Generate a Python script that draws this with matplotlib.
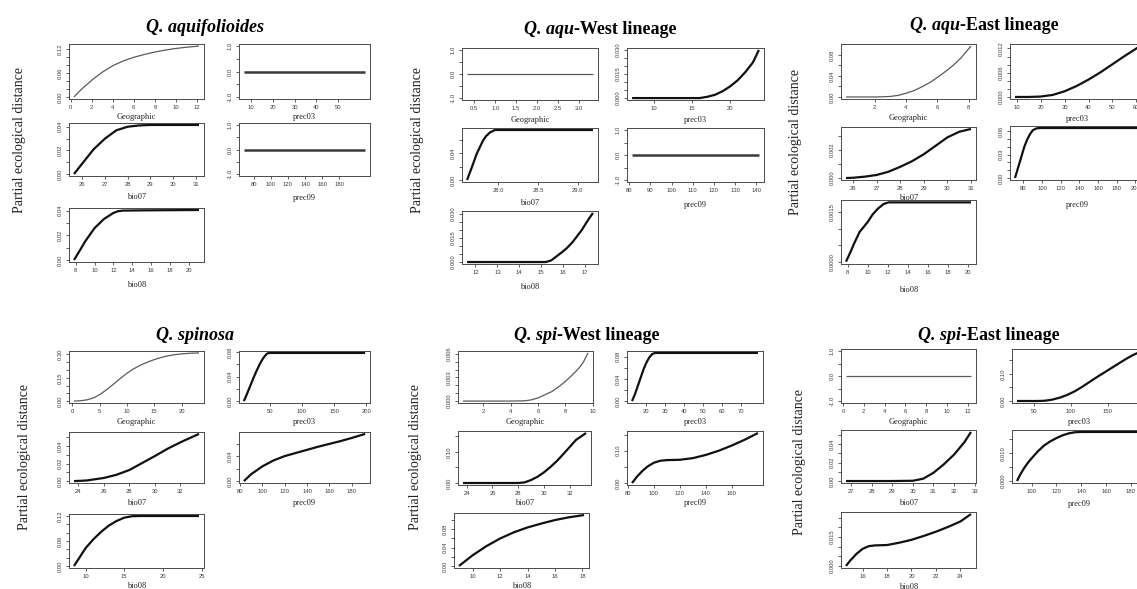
import matplotlib
matplotlib.use("Agg")
import matplotlib.pyplot as plt

W, H = 1137, 589

# ======================= DATA =======================
# ---- Q. aquifolioides (AQ) ----
AQ_geo_x = [0.3, 1, 2, 3, 4, 5, 6, 7, 8, 9, 10, 11, 12.2]
AQ_geo_y = [0, 0.019, 0.042, 0.062, 0.078, 0.090, 0.099, 0.106, 0.112, 0.117, 0.121, 0.124, 0.127]
AQ_p03_x = [6.9, 62.2]
AQ_p03_y = [0, 0]
AQ_b07_x = [25.63, 26, 26.5, 27, 27.5, 28, 28.5, 29, 31.15]
AQ_b07_y = [0, 0.009, 0.021, 0.030, 0.037, 0.0400, 0.0411, 0.0415, 0.0415]
AQ_p09_x = [68.7, 210]
AQ_p09_y = [0, 0]
AQ_b08_x = [7.82, 8.5, 9, 10, 11, 12, 12.5, 13, 15, 21.1]
AQ_b08_y = [0, 0.0085, 0.015, 0.0258, 0.0332, 0.0381, 0.0395, 0.0400, 0.0402, 0.0405]

# ---- Q. aqu-West lineage (AW) ----
AW_geo_x = [0.33, 3.33]
AW_geo_y = [0, 0]
AW_p03_x = [7.1, 12, 16, 17, 18, 19, 20, 21, 22, 23, 23.8]
AW_p03_y = [0, 0, 0, 0.0008, 0.002, 0.0042, 0.0072, 0.011, 0.016, 0.022, 0.0298]
AW_b07_x = [27.61, 27.67, 27.73, 27.81, 27.85, 27.9, 27.96, 28.1, 29.19]
AW_b07_y = [0, 0.019, 0.039, 0.059, 0.066, 0.0715, 0.075, 0.075, 0.075]
AW_p09_x = [81.3, 141.3]
AW_p09_y = [0, 0]
AW_b08_x = [11.62, 13, 14, 15, 15.2, 15.45, 15.7, 15.95, 16.15, 16.4, 16.6, 16.85, 17.05, 17.2, 17.35]
AW_b08_y = [0, 0, 0, 0, 0, 0.001, 0.0036, 0.0062, 0.0085, 0.012, 0.0155, 0.020, 0.0244, 0.0275, 0.0304]

# ---- Q. aqu-East lineage (AE) ----
AE_geo_x = [0.18, 1, 2, 2.5, 3, 3.5, 4, 4.5, 5, 5.5, 6, 6.5, 7, 7.5, 8.15]
AE_geo_y = [0, 0, 0, 0.0003, 0.001, 0.003, 0.007, 0.012, 0.019, 0.027, 0.037, 0.048, 0.060, 0.074, 0.097]
AE_p03_x = [9.3, 15, 20, 25, 30, 35, 40, 45, 50, 55, 60, 61.5]
AE_p03_y = [0, 0, 0.0001, 0.0005, 0.0014, 0.0027, 0.0043, 0.0061, 0.0081, 0.0101, 0.012, 0.0126]
AE_b07_x = [25.7, 26, 26.5, 27, 27.5, 28, 28.5, 29, 29.5, 30, 30.5, 31.0]
AE_b07_y = [0, 0.00002, 0.0001, 0.00022, 0.00045, 0.0008, 0.0012, 0.0017, 0.0023, 0.0029, 0.0033, 0.0035]
AE_p09_x = [71, 73, 75, 77, 79, 81, 84, 87, 90, 94, 98, 205]
AE_p09_y = [0, 0.008, 0.016, 0.024, 0.032, 0.040, 0.049, 0.056, 0.061, 0.0635, 0.064, 0.064]
AE_b08_x = [7.84, 8.3, 8.65, 9.2, 10, 10.5, 11, 11.6, 12.1, 13, 20.35]
AE_b08_y = [0, 0.0003, 0.00055, 0.0009, 0.0012, 0.00143, 0.0016, 0.00175, 0.0018, 0.0018, 0.0018]

# ---- Q. spinosa (SP) ----
SP_geo_x = [0.3, 1.5, 2.7, 4, 5.15, 6.4, 7.6, 8.8, 10, 11.2, 12.4, 13.7, 15, 16.2, 17.3, 18.6, 20, 21.6, 23.2]
SP_geo_y = [0, 0.002, 0.008, 0.022, 0.045, 0.077, 0.111, 0.146, 0.179, 0.207, 0.230, 0.250, 0.267, 0.280,
            0.290, 0.298, 0.304, 0.308, 0.310]
SP_p03_x = [10, 15, 20, 25, 30, 35, 40, 45, 47.5, 50, 198]
SP_p03_y = [0, 0.012, 0.025, 0.038, 0.050, 0.061, 0.070, 0.0765, 0.078, 0.0785, 0.0785]
SP_b07_x = [23.66, 24.65, 26, 27, 28, 29, 30, 31, 32, 33.45]
SP_b07_y = [0, 0.0007, 0.0036, 0.0073, 0.0127, 0.0207, 0.0287, 0.0371, 0.0444, 0.054]
SP_p09_x = [83.5, 90, 100, 110, 120, 130, 140, 150, 160, 170, 180, 192]
SP_p09_y = [0, 0.011, 0.0235, 0.033, 0.040, 0.045, 0.050, 0.055, 0.0595, 0.064, 0.069, 0.0755]
SP_b08_x = [8.5, 9.2, 10, 11, 12, 13, 14, 15, 16, 17, 24.65]
SP_b08_y = [0, 0.02, 0.043, 0.064, 0.082, 0.097, 0.108, 0.116, 0.1195, 0.12, 0.12]

# ---- Q. spi-West lineage (SW) ----
SW_geo_x = [0.51, 2, 4, 5, 5.5, 6, 6.5, 7, 7.5, 8, 8.5, 9, 9.3, 9.65]
SW_geo_y = [0, 0, 0, 0.00003, 0.00015, 0.0004, 0.0008, 0.0012, 0.0018, 0.0025, 0.0033, 0.0042, 0.0049, 0.0061]
SW_p03_x = [12.9, 14.5, 16, 17.5, 19, 20.5, 22, 23.5, 25, 26.5, 79]
SW_p03_y = [0, 0.013, 0.028, 0.043, 0.058, 0.070, 0.079, 0.085, 0.087, 0.087, 0.087]
SW_b07_x = [23.7, 26, 28, 28.5, 29, 29.5, 30, 30.5, 31, 31.5, 32, 32.5, 33.28]
SW_b07_y = [0, 0, 0, 0.002, 0.0095, 0.02, 0.034, 0.051, 0.07, 0.092, 0.115, 0.138, 0.16]
SW_p09_x = [83.1, 87, 91, 95, 100, 105, 110, 120, 130, 140, 150, 160, 170, 180.3]
SW_p09_y = [0, 0.02, 0.037, 0.051, 0.063, 0.069, 0.071, 0.072, 0.077, 0.087, 0.100, 0.116, 0.134, 0.155]
SW_b08_x = [9, 10, 11, 12, 13, 14, 15, 16, 17, 18.12]
SW_b08_y = [0, 0.0233, 0.043, 0.0596, 0.073, 0.0836, 0.092, 0.0996, 0.1055, 0.1105]

# ---- Q. spi-East lineage (SE) ----
SE_geo_x = [0.3, 12.3]
SE_geo_y = [0, 0]
SE_p03_x = [27.5, 40, 55, 65, 75, 85, 95, 105, 115, 125, 135, 145, 155, 165, 175, 185, 196.5]
SE_p03_y = [0, 0, 0, 0.001, 0.005, 0.012, 0.022, 0.035, 0.051, 0.069, 0.087, 0.104, 0.121, 0.138,
            0.155, 0.170, 0.184]
SE_b07_x = [26.76, 28, 29, 30, 30.5, 31, 31.5, 32, 32.5, 32.82]
SE_b07_y = [0, 0, 0, 0.0003, 0.0025, 0.0089, 0.018, 0.0286, 0.042, 0.053]
SE_p09_x = [88.2, 91, 94, 97, 100, 105, 110, 115, 120, 125, 130, 135, 140, 189]
SE_p09_y = [0, 0.0025, 0.0047, 0.0066, 0.0082, 0.0107, 0.0128, 0.0143, 0.0155, 0.0165, 0.0172, 0.0176,
            0.0177, 0.0177]
SE_b08_x = [14.65, 15, 15.5, 16, 16.5, 17, 18, 19, 20, 21, 22, 23, 24, 24.86]
SE_b08_y = [0, 0.0028, 0.0062, 0.0088, 0.0102, 0.0106, 0.0108, 0.012, 0.0135, 0.0155, 0.0177, 0.0202,
            0.023, 0.0268]

# ---- tick labels (x) ----
AQ_geo_xt = ["0", "2", "4", "6", "8", "10", "12"]
AQ_p03_xt = ["10", "20", "30", "40", "50"]
AQ_b07_xt = ["26", "27", "28", "29", "30", "31"]
AQ_p09_xt = ["80", "100", "120", "140", "160", "180"]
AQ_b08_xt = ["8", "10", "12", "14", "16", "18", "20"]
AW_geo_xt = ["0.5", "1.0", "1.5", "2.0", "2.5", "3.0"]
AW_p03_xt = ["10", "15", "20"]
AW_b07_xt = ["28.0", "28.5", "29.0"]
AW_p09_xt = ["80", "90", "100", "110", "120", "130", "140"]
AW_b08_xt = ["12", "13", "14", "15", "16", "17"]
AE_geo_xt = ["2", "4", "6", "8"]
AE_p03_xt = ["10", "20", "30", "40", "50", "60"]
AE_b07_xt = ["26", "27", "28", "29", "30", "31"]
AE_p09_xt = ["80", "100", "120", "140", "160", "180", "200"]
AE_b08_xt = ["8", "10", "12", "14", "16", "18", "20"]
SP_geo_xt = ["0", "5", "10", "15", "20"]
SP_p03_xt = ["50", "100", "150", "200"]
SP_b07_xt = ["24", "26", "28", "30", "32"]
SP_p09_xt = ["80", "100", "120", "140", "160", "180"]
SP_b08_xt = ["10", "15", "20", "25"]
SW_geo_xt = ["2", "4", "6", "8", "10"]
SW_p03_xt = ["20", "30", "40", "50", "60", "70"]
SW_b07_xt = ["24", "26", "28", "30", "32"]
SW_p09_xt = ["80", "100", "120", "140", "160"]
SW_b08_xt = ["10", "12", "14", "16", "18"]
SE_geo_xt = ["0", "2", "4", "6", "8", "10", "12"]
SE_p03_xt = ["50", "100", "150"]
SE_b07_xt = ["27", "28", "29", "30", "31", "32", "33"]
SE_p09_xt = ["100", "120", "140", "160", "180"]
SE_b08_xt = ["16", "18", "20", "22", "24"]

# ---- tick labels (y) and tick marks ----
FLAT_yl = ["-1.0", "0.0", "1.0"]
FLAT_ym = [-1.0, -0.5, 0.0, 0.5, 1.0]
AQ_geo_yl = ["0.00", "0.06", "0.12"];   AQ_geo_ym = [0, 0.02, 0.04, 0.06, 0.08, 0.10, 0.12]
AQ_b07_yl = ["0.00", "0.02", "0.04"];   AQ_b07_ym = [0, 0.01, 0.02, 0.03, 0.04]
AQ_b08_yl = ["0.00", "0.02", "0.04"];   AQ_b08_ym = [0, 0.01, 0.02, 0.03, 0.04]
AW_p03_yl = ["0.000", "0.015", "0.030"]; AW_p03_ym = [0, 0.005, 0.01, 0.015, 0.02, 0.025, 0.03]
AW_b07_yl = ["0.00", "0.04"];           AW_b07_ym = [0, 0.02, 0.04, 0.06]
AW_b08_yl = ["0.000", "0.015", "0.030"]; AW_b08_ym = [0, 0.005, 0.01, 0.015, 0.02, 0.025, 0.03]
AE_geo_yl = ["0.00", "0.04", "0.08"];   AE_geo_ym = [0, 0.02, 0.04, 0.06, 0.08]
AE_p03_yl = ["0.000", "0.006", "0.012"]; AE_p03_ym = [0, 0.002, 0.004, 0.006, 0.008, 0.01, 0.012]
AE_b07_yl = ["0.000", "0.002"];         AE_b07_ym = [0, 0.001, 0.002, 0.003]
AE_p09_yl = ["0.00", "0.03", "0.06"];   AE_p09_ym = [0, 0.01, 0.02, 0.03, 0.04, 0.05, 0.06]
AE_b08_yl = ["0.0000", "0.0015"];       AE_b08_ym = [0, 0.0005, 0.001, 0.0015]
SP_geo_yl = ["0.00", "0.15", "0.30"];   SP_geo_ym = [0, 0.05, 0.10, 0.15, 0.20, 0.25, 0.30]
SP_p03_yl = ["0.00", "0.04", "0.08"];   SP_p03_ym = [0, 0.02, 0.04, 0.06, 0.08]
SP_b07_yl = ["0.00", "0.02", "0.04"];   SP_b07_ym = [0, 0.01, 0.02, 0.03, 0.04, 0.05]
SP_p09_yl = ["0.00", "0.04"];           SP_p09_ym = [0, 0.02, 0.04, 0.06]
SP_b08_yl = ["0.00", "0.06", "0.12"];   SP_b08_ym = [0, 0.02, 0.04, 0.06, 0.08, 0.10, 0.12]
SW_geo_yl = ["0.000", "0.003", "0.006"]; SW_geo_ym = [0, 0.001, 0.002, 0.003, 0.004, 0.005, 0.006]
SW_p03_yl = ["0.00", "0.04", "0.08"];   SW_p03_ym = [0, 0.02, 0.04, 0.06, 0.08]
SW_b07_yl = ["0.00", "0.10"];           SW_b07_ym = [0, 0.05, 0.10, 0.15]
SW_p09_yl = ["0.00", "0.10"];           SW_p09_ym = [0, 0.05, 0.10, 0.15]
SW_b08_yl = ["0.00", "0.04", "0.08"];   SW_b08_ym = [0, 0.02, 0.04, 0.06, 0.08, 0.10]
SE_p03_yl = ["0.00", "0.10"];           SE_p03_ym = [0, 0.05, 0.10, 0.15]
SE_b07_yl = ["0.00", "0.02", "0.04"];   SE_b07_ym = [0, 0.01, 0.02, 0.03, 0.04, 0.05]
SE_p09_yl = ["0.000", "0.010"];         SE_p09_ym = [0, 0.005, 0.010, 0.015]
SE_b08_yl = ["0.000", "0.015"];         SE_b08_ym = [0, 0.005, 0.010, 0.015, 0.020, 0.025]

VAR_NAMES = {"geo": "Geographic", "p03": "prec03", "b07": "bio07", "p09": "prec09", "b08": "bio08"}
Y_TITLE = "Partial ecological distance"

# ======================= LAYOUT (pixels) =======================
# box: (left, top, right, bottom, xlabel_y)
GROUPS = {
    "AQ": dict(title=("Q. aquifolioides", ""), tpos=(205, 27), ylab=(20, 140),
               boxes=dict(geo=(69, 44, 204, 99, 117), p03=(239, 44, 370, 99, 117),
                          b07=(69, 123, 204, 176, 197), p09=(239, 123, 370, 176, 198),
                          b08=(69, 208, 204, 262, 285))),
    "AW": dict(title=("Q. aqu", "-West lineage"), tpos=(600, 29), ylab=(417, 140),
               boxes=dict(geo=(462, 48, 598, 100, 120), p03=(627, 48, 764, 100, 120),
                          b07=(462, 128, 598, 182, 203), p09=(627, 128, 764, 182, 205),
                          b08=(462, 211, 598, 264, 287))),
    "AE": dict(title=("Q. aqu", "-East lineage"), tpos=(984, 25), ylab=(795, 142),
               boxes=dict(geo=(841, 44, 976, 99, 118), p03=(1010, 44, 1145, 99, 119),
                          b07=(841, 127, 976, 180, 198), p09=(1010, 126, 1145, 180, 205),
                          b08=(841, 200, 976, 264, 290))),
    "SP": dict(title=("Q. spinosa", ""), tpos=(195, 335), ylab=(25, 457),
               boxes=dict(geo=(69, 351, 204, 403, 422), p03=(239, 351, 370, 403, 422),
                          b07=(69, 432, 204, 483, 503), p09=(239, 432, 370, 483, 503),
                          b08=(69, 514, 204, 568, 586))),
    "SW": dict(title=("Q. spi", "-West lineage"), tpos=(587, 335), ylab=(415, 457),
               boxes=dict(geo=(458, 351, 593, 403, 422), p03=(627, 351, 763, 403, 422),
                          b07=(458, 431, 591, 485, 503), p09=(627, 431, 763, 485, 503),
                          b08=(454, 513, 589, 568, 586))),
    "SE": dict(title=("Q. spi", "-East lineage"), tpos=(989, 335), ylab=(800, 462),
               boxes=dict(geo=(841, 349, 976, 403, 422), p03=(1012, 349, 1147, 403, 422),
                          b07=(841, 430, 976, 483, 503), p09=(1012, 430, 1147, 483, 504),
                          b08=(841, 512, 976, 568, 587))),
}

SERIF = ["Liberation Serif", "DejaVu Serif"]
SANS = ["Liberation Sans", "DejaVu Sans"]

fig = plt.figure(figsize=(W / 100, H / 100), dpi=100)
fig.patch.set_facecolor("white")
G = globals()


def rlim(v):
    lo, hi = min(v), max(v)
    r = hi - lo
    if r == 0:
        lo, hi, r = lo - 1, hi + 1, 2
    return lo - 0.04 * r, hi + 0.04 * r


def fx(px):
    return px / W


def fy(py):
    return 1 - py / H


for gk, g in GROUPS.items():
    for vk, (L, T, R, B, xly) in g["boxes"].items():
        x = G[f"{gk}_{vk}_x"]
        y = G[f"{gk}_{vk}_y"]
        xt = G[f"{gk}_{vk}_xt"]
        flat = max(y) == min(y)
        yl = FLAT_yl if flat else G[f"{gk}_{vk}_yl"]
        ym = FLAT_ym if flat else G[f"{gk}_{vk}_ym"]
        ax = fig.add_axes([fx(L), fy(B), (R - L) / W, (B - T) / H])
        if vk == "geo":
            ax.plot(x, y, color="#5a5a5a", lw=0.9, solid_capstyle="butt")
        elif flat:
            ax.plot(x, y, color="#3a3a3a", lw=1.8, solid_capstyle="butt")
        else:
            ax.plot(x, y, color="#111111", lw=1.6, solid_capstyle="butt")
        ax.set_xlim(*rlim(x))
        ax.set_ylim(*rlim(y))
        ax.set_xticks([float(s) for s in xt])
        ax.set_xticklabels(xt)
        ax.set_yticks(ym)
        ylabs = []
        for v in ym:
            lab = ""
            for s in yl:
                if abs(float(s) - v) < 1e-9:
                    lab = s
            ylabs.append(lab)
        ax.set_yticklabels(ylabs)
        ax.tick_params(axis="both", direction="out", length=2.4, width=0.6, color="#444444",
                       labelsize=4.2, labelcolor="#3c3c3c", pad=2.2)
        ax.tick_params(axis="y", labelrotation=90)
        for lab in ax.get_xticklabels() + ax.get_yticklabels():
            lab.set_family(SANS)
        for lab in ax.get_yticklabels():
            lab.set_va("center")
        for sp in ax.spines.values():
            sp.set_color("#4a4a4a")
            sp.set_linewidth(0.7)
        fig.text(fx((L + R) / 2), fy(xly), VAR_NAMES[vk], ha="center", va="center",
                 fontsize=6, family=SERIF, color="#222222")
    # y title
    fig.text(fx(g["ylab"][0]), fy(g["ylab"][1]), Y_TITLE, rotation=90, ha="center", va="center",
             fontsize=10, family=SERIF, color="#222222")

# titles (italic part + upright part)
renderer = fig.canvas.get_renderer()
for gk, g in GROUPS.items():
    it, up = g["title"]
    cx, cy = g["tpos"]
    t1 = fig.text(0, fy(cy), it, fontsize=13, family=SERIF, weight="bold", style="italic",
                  ha="left", va="center", color="black")
    w1 = t1.get_window_extent(renderer).width
    w2 = 0
    t2 = None
    if up:
        t2 = fig.text(0, fy(cy), up, fontsize=13, family=SERIF, weight="bold",
                      ha="left", va="center", color="black")
        w2 = t2.get_window_extent(renderer).width
    x0 = cx - (w1 + w2) / 2
    t1.set_x(fx(x0))
    if t2 is not None:
        t2.set_x(fx(x0 + w1))

fig.savefig("out.png", dpi=100, facecolor="white")
